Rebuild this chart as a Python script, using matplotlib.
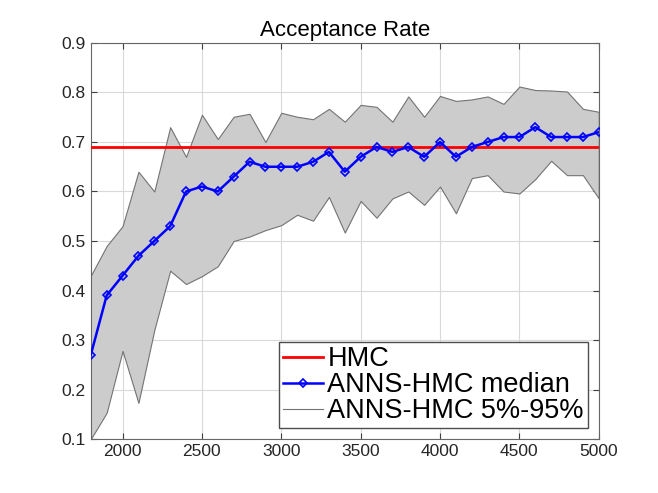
import numpy as np
import matplotlib.pyplot as plt
from matplotlib.lines import Line2D

plt.rc('font', family=['Liberation Sans', 'DejaVu Sans'])

n_samples = list(range(1800, 5001, 100))

median_rate = [0.27, 0.39, 0.43, 0.47, 0.50, 0.53, 0.60, 0.61, 0.60, 0.63,
               0.66, 0.65, 0.65, 0.65, 0.66, 0.68, 0.64, 0.67, 0.69, 0.68,
               0.69, 0.67, 0.70, 0.67, 0.69, 0.70, 0.71, 0.71, 0.73, 0.71,
               0.71, 0.71, 0.72]

upper_rate = [0.43, 0.49, 0.53, 0.64, 0.60, 0.73, 0.67, 0.755, 0.706, 0.751,
              0.757, 0.70, 0.759, 0.751, 0.746, 0.767, 0.741, 0.775, 0.771, 0.741,
              0.792, 0.751, 0.793, 0.783, 0.786, 0.792, 0.777, 0.812, 0.805, 0.804,
              0.802, 0.767, 0.761]

lower_rate = [0.10, 0.153, 0.278, 0.173, 0.32, 0.44, 0.413, 0.429, 0.449, 0.50,
              0.509, 0.522, 0.532, 0.553, 0.541, 0.589, 0.517, 0.581, 0.547, 0.586,
              0.60, 0.573, 0.61, 0.556, 0.627, 0.633, 0.60, 0.596, 0.625, 0.662,
              0.633, 0.633, 0.586]

hmc_rate = 0.69

fig = plt.figure(figsize=(6.58, 4.93), dpi=100)
ax = fig.add_axes([0.138, 0.1095, 0.772, 0.8033])

ax.fill_between(n_samples, lower_rate, upper_rate, facecolor='0.8',
                edgecolor='0.45', linewidth=0.8, zorder=2)
ax.axhline(hmc_rate, color='red', linewidth=2, zorder=3)
ax.plot(n_samples, median_rate, color='blue', linewidth=1.8, marker='D',
        markersize=4.5, markerfacecolor='none', markeredgewidth=1.2, zorder=4)

ax.set_xlim(1800, 5000)
ax.set_ylim(0.1, 0.9)
ax.set_xticks(range(2000, 5001, 500))
ax.set_yticks(np.arange(0.1, 0.91, 0.1))
ax.yaxis.set_major_formatter(plt.FormatStrFormatter('%.1f'))
ax.grid(True, color='0.85', linewidth=0.8, zorder=0)
ax.set_axisbelow(True)
ax.tick_params(direction='in', labelsize=12.5, colors='0.25', labelcolor='0.15',
               top=True, right=True, length=4)
for s in ax.spines.values():
    s.set_color('0.4')

ax.set_title('Acceptance Rate', fontsize=16, pad=5)

handles = [
    Line2D([], [], color='red', linewidth=2),
    Line2D([], [], color='blue', linewidth=1.8, marker='D', markersize=4.5,
           markerfacecolor='none', markeredgewidth=1.2),
    Line2D([], [], color='0.45', linewidth=0.8),
]
labels = ['HMC', 'ANNS-HMC median', 'ANNS-HMC 5%-95%']
leg = ax.legend(handles, labels, loc='lower right', fontsize=19.5,
                fancybox=False, framealpha=1, edgecolor='0.3',
                handlelength=1.5, handletextpad=0.15, labelspacing=0.0,
                borderpad=0.15, borderaxespad=0.4)
leg.get_frame().set_linewidth(1.0)

fig.savefig('out.png', dpi=100)
